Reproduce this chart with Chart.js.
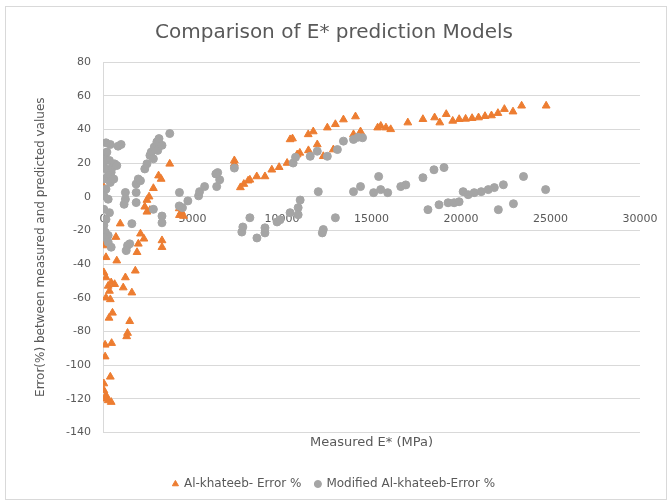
<!DOCTYPE html>
<html>
<head>
<meta charset="utf-8">
<script src="https://cdn.jsdelivr.net/npm/chart.js@4.4.1/dist/chart.umd.min.js"></script>
<style>
  html, body { margin: 0; padding: 0; background: #fff; }
  #wrap { width: 671px; height: 504px; }
</style>
</head>
<body>
<div id="wrap"><canvas id="chart" width="671" height="504"></canvas></div>
<script>
// [measured E* (MPa), error %]
const alKhateebError = [
  [0, 3.6], [0, 6.5],
  [48, -29], [48, -45], [168, -36], [168, -48], [289, -53], [361, -56], [457, -51], [650, -52],
  [409, -61], [168, -60], [529, -69], [337, -72], [120, -88], [481, -87], [120, -95], [409, -107],
  [48, -111], [48, -115], [168, -118], [289, -121], [457, -122], [168, -120],
  [962, -16], [722, -24], [770, -38], [1131, -54], [1251, -48], [1612, -57], [1805, -44],
  [1492, -74], [1371, -81], [1323, -83], [1901, -33], [1973, -28], [2093, -22], [2286, -25],
  [2334, -6], [2454, -9], [2623, -8], [2454, -2], [2574, 0], [2815, 5], [3104, 12.5], [3248, 10.5],
  [3729, 19.5], [3296, -26], [3296, -30],
  [4271, -11], [4379, -9], [4499, -11.5], [4259, -7],
  [7338, 21.5], [7338, 19.5], [7675, 5.5], [7868, 7.5], [8108, 9.5], [8590, 12], [8205, 10],
  [9048, 12], [9431, 16], [9840, 17.5], [10285, 20], [10847, 25], [10996, 26], [11477, 27.5],
  [11971, 31], [12308, 24], [12870, 28],
  [10453, 34], [10587, 34.5], [11465, 37], [11746, 38.7], [12533, 41], [12982, 43], [13432, 45.8],
  [14106, 47.6],
  [13994, 37], [14387, 38.7], [15343, 41], [15519, 42], [15808, 41], [16073, 40], [17029, 44],
  [17872, 46], [18526, 47], [18815, 44], [19176, 49], [19537, 45], [19898, 46], [20258, 46.2],
  [20619, 46.6], [20980, 47], [21341, 47.8], [21702, 48.2], [22063, 49.6], [22424, 52],
  [22905, 50.5], [23386, 54], [24758, 54]
];

const modifiedError = [
  [168, 32], [409, 31], [120, 24.5], [217, 26.5], [361, 21.5], [48, 20.5], [168, 16.5], [529, 17.5],
  [650, 19.5], [770, 18.5], [457, 14.5], [289, 12.5], [48, 10.5], [409, 8.5], [601, 10.5], [168, 4.5],
  [48, 0.5], [289, -1.5], [48, -7.5], [361, -9.5], [168, -13.5], [48, -17], [120, -21], [289, -23],
  [48, -24], [289, -27], [457, -30],
  [842, 30], [1010, 31], [1251, 2.5], [1251, -1.5], [1179, -4.5], [1612, -16], [1371, -29],
  [1299, -32], [1492, -28], [1853, 7.5], [1973, 10.5], [2093, 9.5], [1853, 2.5], [1853, -3.5],
  [2334, 16.5], [2454, 19.5], [2623, 24.5], [2695, 26.5], [2863, 29.5], [3008, 32.5], [3128, 34.5],
  [3056, 27.5], [3296, 30.5], [2815, 22.5], [3729, 37.5], [3296, -11.5], [3296, -15.5], [2815, -7.5],
  [4271, 2.5], [4440, -6.5], [4259, -5.5], [4740, -2.5], [5341, 0.5], [5395, 3], [5676, 6],
  [6351, 6], [6519, 10], [6407, 14.3], [6304, 13.5], [7338, 17],
  [7756, -21], [7812, -18], [8205, -12.5], [8599, -24.5], [9048, -21.5], [9048, -18.5], [9723, -15],
  [9891, -13.7], [10453, -9.5], [10903, -6.5], [11015, -2], [10903, -10.7], [12251, -21.5],
  [12308, -19.5], [12982, -12.5],
  [10622, 20], [10755, 23.4], [11577, 24], [11971, 27], [12533, 24], [13095, 28], [13432, 33],
  [13994, 34], [14500, 35], [14243, 35.3],
  [12027, 3], [13994, 3], [14387, 6], [15399, 12], [15118, 2.4], [15512, 4.2], [15905, 2.4],
  [16635, 6], [16916, 7], [17872, 11.3], [18490, 16], [19052, 17.3], [18153, -7.7], [18771, -4.8],
  [19277, -3.6], [19614, -3.6], [19895, -3], [20120, 3], [20401, 1.2], [20738, 2.4], [21131, 3],
  [21524, 4.2], [21862, 5.4], [22368, 7.1], [22087, -7.7], [22930, -4.2], [23492, 12], [24728, 4.2]
];

const seriesNames = ['Al-khateeb- Error %', 'Modified Al-khateeb-Error %'];

const toPoints = (pairs) => pairs.map(([x, y]) => ({ x, y }));

const textColor = '#595959';
const gridColor = '#d9d9d9';
const fontFamily = '"DejaVu Sans", sans-serif';

// white background + light chart-area frame, like the spreadsheet export
const frame = {
  id: 'frame',
  beforeDraw(chart) {
    const { ctx } = chart;
    ctx.save();
    ctx.fillStyle = '#fff';
    ctx.fillRect(0, 0, chart.width, chart.height);
    ctx.strokeStyle = '#d9d9d9';
    ctx.lineWidth = 1;
    ctx.strokeRect(5.5, 6.5, 661, 493);
    ctx.restore();
  }
};

new Chart(document.getElementById('chart'), {
  type: 'scatter',
  data: {
    datasets: [
      {
        label: seriesNames[0],
        data: toPoints(alKhateebError),
        pointStyle: 'triangle',
        pointRadius: 4.5,
        backgroundColor: '#ED7D31',
        borderColor: '#ED7D31',
        borderWidth: 1,
        order: 1
      },
      {
        label: seriesNames[1],
        data: toPoints(modifiedError),
        pointStyle: 'circle',
        pointRadius: 4,
        backgroundColor: '#A5A5A5',
        borderColor: '#A5A5A5',
        borderWidth: 1,
        order: 0
      }
    ]
  },
  options: {
    responsive: false,
    animation: false,
    layout: { padding: { left: 28, right: 31, top: 0, bottom: 4 } },
    plugins: {
      title: {
        display: true,
        text: 'Comparison of E* prediction Models',
        color: textColor,
        font: { family: fontFamily, size: 20, weight: 'normal' },
        padding: { top: 21, bottom: 17 }
      },
      legend: {
        position: 'bottom',
        labels: {
          usePointStyle: true,
          boxWidth: 5,
          boxHeight: 5,
          color: textColor,
          font: { family: fontFamily, size: 12 },
          padding: 14,
          sort: (a, b) => a.datasetIndex - b.datasetIndex
        }
      },
      tooltip: { enabled: false }
    },
    scales: {
      x: {
        type: 'linear',
        position: { y: 0 },
        min: 0,
        max: 30000,
        grid: { display: false },
        border: { display: false },
        ticks: {
          stepSize: 5000,
          color: textColor,
          font: { family: fontFamily, size: 11 },
          padding: 8,
          maxRotation: 0,
          callback: (v) => String(v)
        }
      },
      xTitle: {
        type: 'linear',
        position: 'bottom',
        min: 0,
        max: 30000,
        grid: { display: false, drawTicks: false },
        border: { display: false },
        ticks: { display: false },
        title: {
          display: true,
          text: 'Measured E* (MPa)',
          color: textColor,
          font: { family: fontFamily, size: 13 },
          padding: { top: 2, bottom: 14 }
        }
      },
      y: {
        min: -140,
        max: 80,
        grid: { color: gridColor, drawTicks: false },
        border: { display: true, color: gridColor },
        ticks: {
          stepSize: 20,
          color: textColor,
          font: { family: fontFamily, size: 11 },
          padding: 12
        },
        title: {
          display: true,
          text: 'Error(%) between measured and predicted values',
          color: textColor,
          font: { family: fontFamily, size: 12 },
          padding: { top: 6, bottom: 0 }
        },
        afterFit(scale) {
          scale.width = 75;
        }
      }
    }
  },
  plugins: [frame]
});
</script>
</body>
</html>
